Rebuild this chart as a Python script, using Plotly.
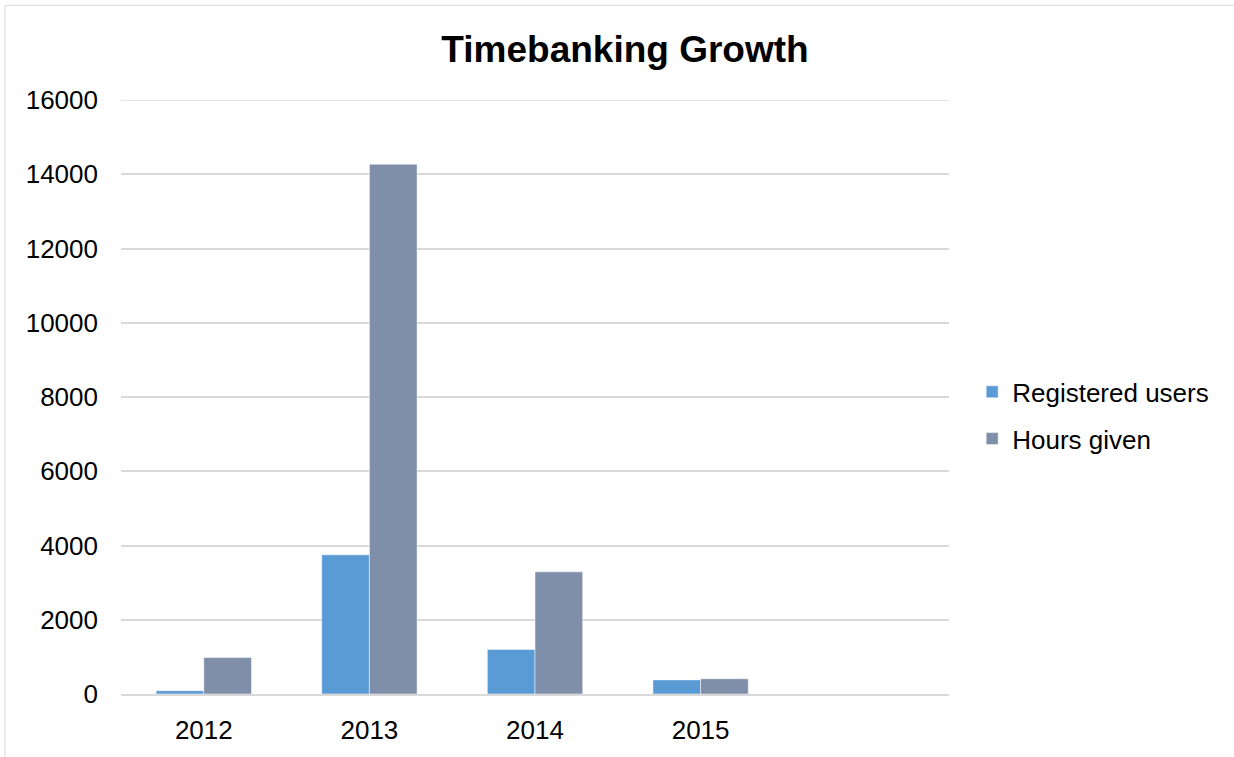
import plotly.graph_objects as go

# Timebanking growth by year
years = ["2012", "2013", "2014", "2015"]
registered_users = [90, 3750, 1200, 380]
hours_given = [980, 14270, 3290, 410]
y_ticks = [0, 2000, 4000, 6000, 8000, 10000, 12000, 14000, 16000]
y_tick_labels = [str(v) for v in y_ticks]

FONT = "Liberation Sans, Arial, sans-serif"
GRID = "#d9d9d9"

fig = go.Figure()
fig.add_trace(go.Bar(
    x=years, y=registered_users, name="Registered users",
    marker=dict(color="#5b9bd5", line=dict(color="white", width=0.5)),
    legendgroup="a",
))
fig.add_trace(go.Bar(
    x=years, y=hours_given, name="Hours given",
    marker=dict(color="#7f8fa9", line=dict(color="white", width=0.5)),
    legendgroup="b",
))

fig.update_layout(
    width=1234, height=757,
    margin=dict(l=121, r=285, t=100, b=61),
    paper_bgcolor="white", plot_bgcolor="white",
    font=dict(family=FONT, size=26, color="#000000"),
    barmode="group", bargap=0.424, bargroupgap=0,
    title=dict(
        text="<b>Timebanking Growth</b>",
        font=dict(family=FONT, size=37, color="#000000"),
        x=625 / 1234, xanchor="center", xref="container",
        y=1 - 49 / 757, yanchor="middle", yref="container",
    ),
    legend=dict(
        x=1.028, xanchor="left", y=0.469, yanchor="middle",
        font=dict(family=FONT, size=26, color="#000000"),
        traceorder="grouped", tracegroupgap=10,
        bgcolor="rgba(0,0,0,0)",
    ),
    xaxis=dict(
        type="category", range=[-0.5, 4.5],
        showgrid=False, showline=True, linecolor=GRID, linewidth=1.5,
        ticks="", ticklabelstandoff=12,
        tickfont=dict(family=FONT, size=26, color="#000000"),
    ),
    yaxis=dict(
        range=[0, y_ticks[-1]], tickvals=y_ticks, ticktext=y_tick_labels,
        showgrid=True, gridcolor=GRID, gridwidth=1.5,
        zeroline=False, showline=False, ticks="",
        ticklabelstandoff=22,
        tickfont=dict(family=FONT, size=26, color="#000000"),
    ),
    shapes=[
        # outer chart-area border
        dict(type="rect", xref="paper", yref="paper",
             x0=(5 - 121) / 828, x1=(1300 - 121) / 828,
             y0=(696 - 800) / 596, y1=(696 - 5) / 596,
             line=dict(color=GRID, width=1), fillcolor="rgba(0,0,0,0)",
             layer="below"),
        # top gridline at the upper end of the value axis
        dict(type="line", xref="paper", yref="y",
             x0=0, x1=1, y0=y_ticks[-1], y1=y_ticks[-1],
             line=dict(color=GRID, width=1.5), layer="below"),
    ],
)

fig.write_html("out.html")
